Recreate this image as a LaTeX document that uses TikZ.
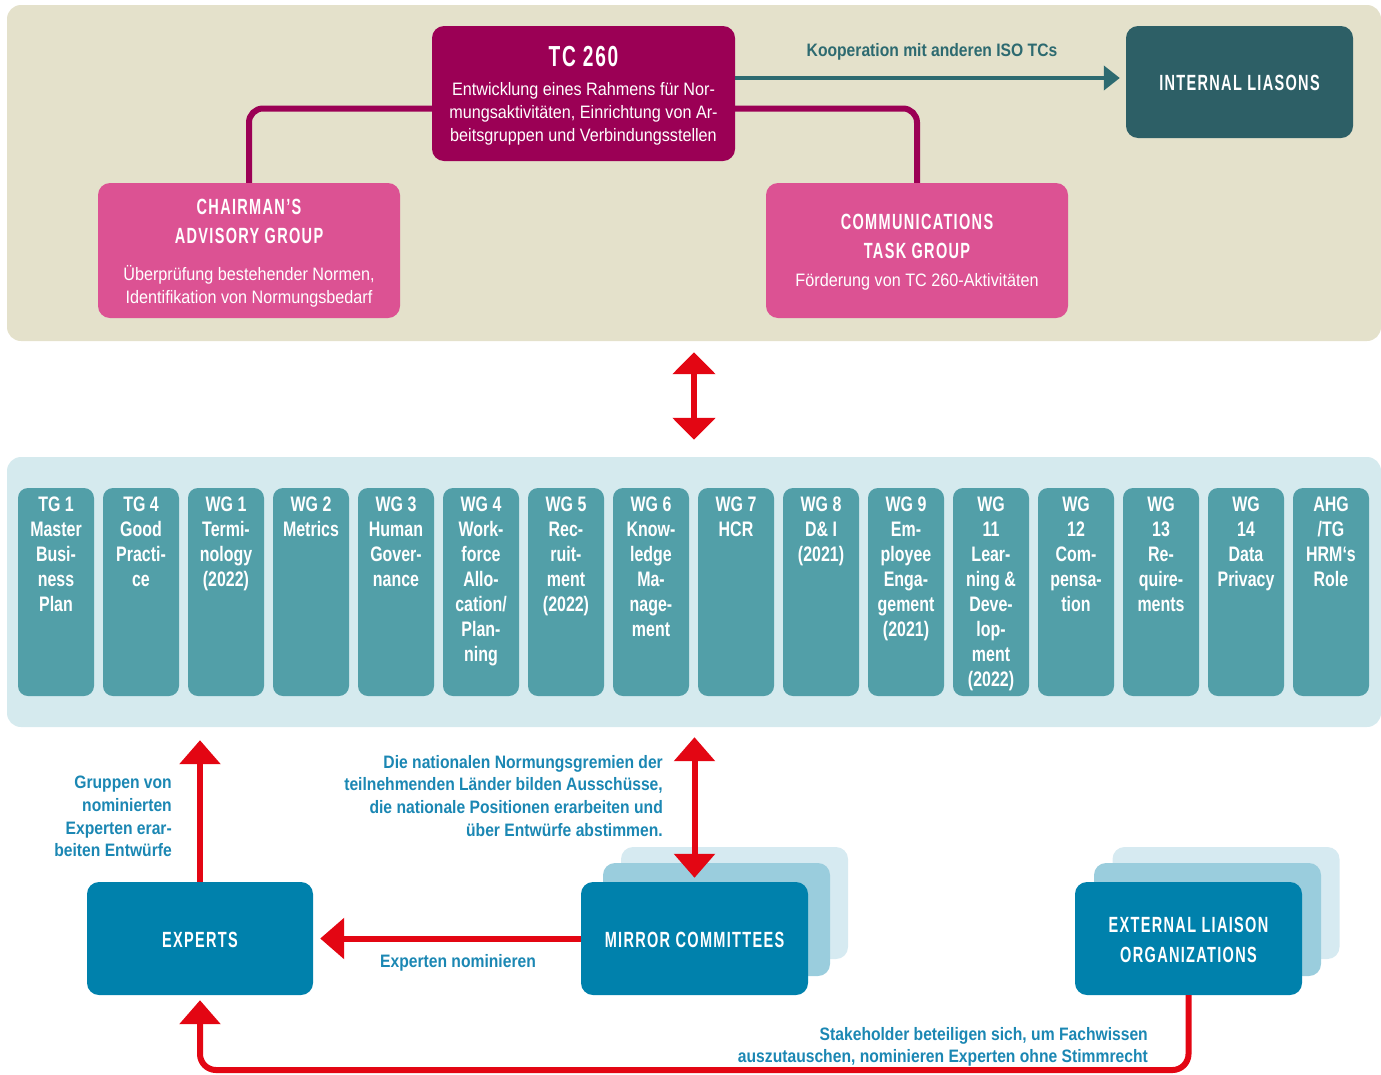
\documentclass[tikz,border=0pt]{standalone}
\usepackage{fontspec}
\setmainfont{Liberation Sans}[FakeStretch=0.9]
\newfontfamily\capsfont{Liberation Sans}[FakeStretch=0.66,LetterSpace=6]
\newfontfamily\narrowbold{Liberation Sans}[FakeStretch=0.87]
\newfontfamily\wgfont{Liberation Sans}[FakeStretch=0.76]
\usepackage{xcolor}
\usepackage{tikz}
\usetikzlibrary{arrows.meta,positioning,calc}
\definecolor{topbeige}{HTML}{E4E1CB}
\definecolor{tcmagenta}{HTML}{9B0055}
\definecolor{grouppink}{HTML}{DC5293}
\definecolor{liasonteal}{HTML}{2D5F66}
\definecolor{coopteal}{HTML}{2D6A70}
\definecolor{midblue}{HTML}{D5EAEE}
\definecolor{wgteal}{HTML}{529FA8}
\definecolor{nodeblue}{HTML}{0081AC}
\definecolor{stackmid}{HTML}{9ACDDD}
\definecolor{stackback}{HTML}{D6EAF1}
\definecolor{isored}{HTML}{E30613}
\definecolor{labelblue}{HTML}{1B87B3}

\begin{document}
\begin{tikzpicture}[x=1pt,y=-1pt,
    box/.style={rounded corners=12pt,inner sep=0pt},
    capstext/.style={font=\capsfont\bfseries\fontsize{22}{29}\selectfont,text=white,align=center,inner sep=0pt},
    bodytext/.style={font=\fontsize{18}{23}\selectfont,text=white,align=center,inner sep=0pt},
    wgbox/.style={fill=wgteal,rounded corners=10pt,minimum width=76pt,minimum height=208pt,inner sep=0pt},
    wgtext/.style={font=\wgfont\bfseries\fontsize{21}{25}\selectfont,text=white,align=center,inner sep=0pt},
    bluelabel/.style={font=\narrowbold\bfseries\fontsize{18}{22.7}\selectfont,text=labelblue,align=right,inner sep=0pt},
    tclink/.style={draw=tcmagenta,line width=6pt,rounded corners=14pt},
    redline/.style={draw=isored,line width=6pt},
    >={Triangle[width=40pt,length=24pt]}]
    \useasboundingbox (0,0) rectangle (1381,1074);
    % backgrounds
    \node[box,fill=topbeige,rounded corners=14pt,minimum width=1374pt,minimum height=336pt] (topbg) at (694,173) {};
    \node[box,fill=midblue,rounded corners=14pt,minimum width=1374pt,minimum height=270pt] (midbg) at (694,592) {};
    % top level
    \node[box,fill=tcmagenta,minimum width=303pt,minimum height=135pt] (tc) at (583.5,93.5) {};
    \node[capstext,font=\capsfont\bfseries\fontsize{29}{32}\selectfont] at (583.5,57) {TC 260};
    \node[bodytext] at (583.5,114) {Entwicklung eines Rahmens für Nor-\\mungsaktivitäten, Einrichtung von Ar-\\beitsgruppen und Verbindungsstellen};
    \node[box,fill=liasonteal,minimum width=227pt,minimum height=112pt] (il) at (1239.5,82) {};
    \node[capstext] at (1239.5,83) {INTERNAL LIASONS};
    \node[box,fill=grouppink,minimum width=302pt,minimum height=135pt] (cag) at (249,250.5) {};
    \node[capstext] at (249,221.5) {CHAIRMAN’S\\ADVISORY GROUP};
    \node[bodytext] at (249,286) {Überprüfung bestehender Normen,\\Identifikation von Normungsbedarf};
    \node[box,fill=grouppink,minimum width=302pt,minimum height=135pt] (ctg) at (917,250.5) {};
    \node[capstext] at (917,236.5) {COMMUNICATIONS\\TASK GROUP};
    \node[bodytext] at (917,282) {Förderung von TC 260-Aktivitäten};
    \draw[tclink] ([yshift=-15pt]tc.west) -| (cag.north);
    \draw[tclink] ([yshift=-15pt]tc.east) -| (ctg.north);
    \draw[draw=coopteal,line width=4pt,-{Triangle[width=24pt,length=16pt]}] ($(tc.east |- il.west)+(0,-4)$) -- ($(il.west)+(-6,-4)$);
    \node[font=\narrowbold\bfseries\fontsize{18}{22}\selectfont,text=coopteal,inner sep=0pt] (coop) at (932,52) {Kooperation mit anderen ISO TCs};
    \draw[redline,{Triangle[width=42pt,length=22pt]}-{Triangle[width=42pt,length=22pt]}] ([yshift=-11pt]topbg.south) -- ([yshift=17pt]midbg.north);
    % working groups
    \foreach \n/\txt [count=\i from 0] in {tg1/{TG 1\\Master\\Busi-\\ness\\Plan},
        tg4/{TG 4\\Good\\Practi-\\ce},
        wg1/{WG 1\\Termi-\\nology\\(2022)},
        wg2/{WG 2\\Metrics},
        wg3/{WG 3\\Human\\Gover-\\nance},
        wg4/{WG 4\\Work-\\force\\Allo-\\cation/\\Plan-\\ning},
        wg5/{WG 5\\Rec-\\ruit-\\ment\\(2022)},
        wg6/{WG 6\\Know-\\ledge\\Ma-\\nage-\\ment},
        wg7/{WG 7\\HCR},
        wg8/{WG 8\\D\& I\\(2021)},
        wg9/{WG 9\\Em-\\ployee\\Enga-\\gement\\(2021)},
        wg11/{WG\\11\\Lear-\\ning \&\\Deve-\\lop-\\ment\\(2022)},
        wg12/{WG\\12\\Com-\\pensa-\\tion},
        wg13/{WG\\13\\Re-\\quire-\\ments},
        wg14/{WG\\14\\Data\\Privacy},
        ahg/{AHG\\/TG\\HRM‘s\\Role}} {
      \node[wgbox] (\n) at (56+85*\i,592) {};
      \node[wgtext,anchor=north] at ([yshift=-9pt]\n.north) {\txt};
    }
    % lower level
    \node[box,fill=nodeblue,minimum width=226pt,minimum height=113pt] (experts) at (200,938.5) {};
    \node[capstext] at (200,940) {EXPERTS};
    \node[box,fill=stackback,minimum width=227pt,minimum height=112pt] (mirrorback) at (734.5,903) {};
    \node[box,fill=stackmid,minimum width=227pt,minimum height=113pt] (mirrormid) at (716.5,919.5) {};
    \node[box,fill=nodeblue,minimum width=227pt,minimum height=113pt] (mirror) at (694.5,938.5) {};
    \node[capstext] at (694.5,940) {MIRROR COMMITTEES};
    \node[box,fill=stackback,minimum width=227pt,minimum height=112pt] (extback) at (1226,903) {};
    \node[box,fill=stackmid,minimum width=227pt,minimum height=113pt] (extmid) at (1207.5,919.5) {};
    \node[box,fill=nodeblue,minimum width=227pt,minimum height=113pt] (extlo) at (1188.5,938.5) {};
    \node[capstext,font=\capsfont\bfseries\fontsize{22}{30}\selectfont] at (1188.5,940) {EXTERNAL LIAISON\\ORGANIZATIONS};
    % red connectors
    \draw[redline,->] (experts.north) -- ([yshift=-13pt]experts.north |- midbg.south);
    \draw[redline,<->] ([yshift=-10pt]midbg.south -| mirror.north) -- ([yshift=4pt]mirror.north);
    \draw[redline,->] (mirror.west) -- ([xshift=7pt]experts.east);
    \coordinate (bottomrun) at (0,1070);
    \draw[redline,->,rounded corners=16pt] (extlo.south) -- (extlo.south |- bottomrun) -| ([yshift=-5pt]experts.south);
    % labels
    \node[bluelabel,anchor=north east] (grouplabel) at (172,776) {Gruppen von\\nominierten\\Experten erar-\\beiten Entwürfe};
    \node[bluelabel,anchor=north east] (mirrorlabel) at (663,755) {Die nationalen Normungsgremien der\\teilnehmenden Länder bilden Ausschüsse,\\die nationale Positionen erarbeiten und\\über Entwürfe abstimmen.};
    \node[bluelabel] (nominlabel) at (458,963) {Experten nominieren};
    \node[bluelabel,anchor=north east] (stakelabel) at (1148,1027) {Stakeholder beteiligen sich, um Fachwissen\\auszutauschen, nominieren Experten ohne Stimmrecht};
\end{tikzpicture}
\end{document}
